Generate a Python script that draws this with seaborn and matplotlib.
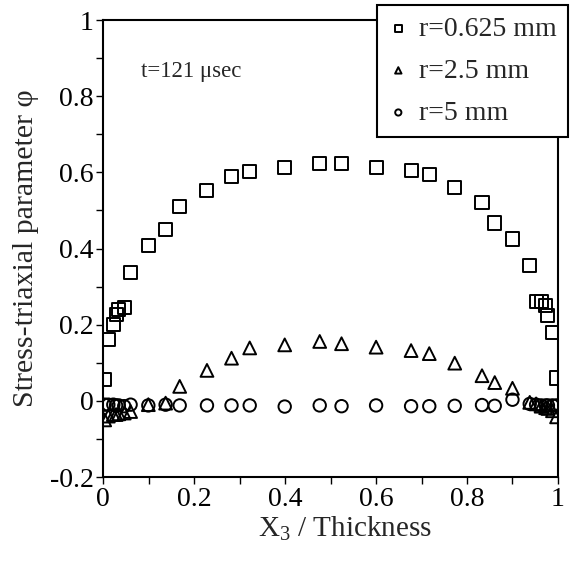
import numpy as np
import pandas as pd
import matplotlib
matplotlib.use("Agg")
import matplotlib.pyplot as plt
import seaborn as sns
from matplotlib.ticker import MultipleLocator

# ---- data ----
x_pos = [0.003, 0.011, 0.022, 0.028, 0.034, 0.046, 0.060, 0.099, 0.137, 0.168,
         0.228, 0.282, 0.322, 0.399, 0.476, 0.524, 0.600, 0.677, 0.717, 0.773,
         0.833, 0.861, 0.900, 0.938, 0.952, 0.963, 0.973, 0.978, 0.988, 0.997]

phi_r0625 = [0.055, 0.160, 0.200, 0.226, 0.240, 0.244, 0.337, 0.409, 0.450, 0.510,
             0.552, 0.589, 0.602, 0.612, 0.623, 0.623, 0.614, 0.604, 0.595, 0.560,
             0.522, 0.467, 0.425, 0.355, 0.260, 0.260, 0.250, 0.224, 0.180, 0.060]

phi_r25 = [-0.050, -0.040, -0.036, -0.036, -0.034, -0.032, -0.028, -0.010, -0.006, 0.038,
           0.080, 0.112, 0.139, 0.147, 0.156, 0.150, 0.141, 0.132, 0.124, 0.099,
           0.066, 0.048, 0.033, -0.004, -0.008, -0.014, -0.018, -0.020, -0.026, -0.042]

phi_r5 = [-0.010, -0.010, -0.010, -0.012, -0.012, -0.014, -0.010, -0.012, -0.010, -0.012,
          -0.012, -0.012, -0.012, -0.015, -0.012, -0.014, -0.012, -0.014, -0.014, -0.013,
          -0.011, -0.013, 0.003, -0.008, -0.010, -0.012, -0.012, -0.012, -0.012, -0.012]

series_labels = ["r=0.625 mm", "r=2.5 mm", "r=5 mm"]
series_markers = ["s", "^", "o"]
annotation = "t=121 \u03bcsec"
xlabel = "$\\mathregular{X_3}$ / Thickness"
ylabel = "Stress-triaxial parameter \u03c6"
xticks = [0, 0.2, 0.4, 0.6, 0.8, 1]
xticklabels = ["0", "0.2", "0.4", "0.6", "0.8", "1"]
yticks = [-0.2, 0, 0.2, 0.4, 0.6, 0.8, 1]
yticklabels = ["-0.2", "0", "0.2", "0.4", "0.6", "0.8", "1"]

df = pd.DataFrame({
    "x": x_pos * 3,
    "phi": phi_r0625 + phi_r25 + phi_r5,
    "series": sum([[lab] * len(x_pos) for lab in series_labels], []),
})

sns.set_style("ticks")
plt.rcParams["font.family"] = ["Liberation Serif", "DejaVu Serif"]
plt.rcParams["mathtext.fontset"] = "custom"
plt.rcParams["mathtext.rm"] = "Liberation Serif"

fig = plt.figure(figsize=(5.74, 5.62), dpi=100)
ax = fig.add_axes([0.180, 0.1512, 0.792, 0.8132])

sizes = {"r=0.625 mm": 88, "r=2.5 mm": 85, "r=5 mm": 80}
for lab, mk in zip(series_labels, series_markers):
    sub = df[df["series"] == lab]
    sns.scatterplot(data=sub, x="x", y="phi", marker=mk, s=sizes[lab],
                    facecolor="none", edgecolor="black", linewidth=1.4,
                    ax=ax, label=lab, zorder=3)

ax.set_xlim(0, 1)
ax.set_ylim(-0.2, 1)
ax.set_xticks(xticks)
ax.set_xticklabels(xticklabels)
ax.set_yticks(yticks)
ax.set_yticklabels(yticklabels)
ax.xaxis.set_minor_locator(MultipleLocator(0.1))
ax.yaxis.set_minor_locator(MultipleLocator(0.1))
ax.tick_params(which="both", direction="out", length=5, width=1, colors="black",
               labelsize=20, pad=2)
for sp in ax.spines.values():
    sp.set_visible(True)
    sp.set_linewidth(1.5)
    sp.set_color("black")

ax.set_xlabel(xlabel, fontsize=21, labelpad=2)
ax.xaxis.label.set_x(0.531)
ax.set_ylabel(ylabel, fontsize=21.5, labelpad=8)

ax.text(0.082, 0.888, annotation, transform=ax.transAxes, fontsize=16.5,
        ha="left", va="center")

leg = ax.legend(loc="upper right", bbox_to_anchor=(568 / 574, 1 - 5 / 562),
                bbox_transform=fig.transFigure, fontsize=20, markerscale=0.5,
                frameon=True, fancybox=False, handletextpad=0.4,
                handlelength=0.7, borderpad=0.4, labelspacing=0.6,
                borderaxespad=0)
leg.get_frame().set_edgecolor("black")
leg.get_frame().set_linewidth(1.5)
leg.get_frame().set_alpha(1)
leg.set_zorder(5)

fig.savefig("out.png", dpi=100)
